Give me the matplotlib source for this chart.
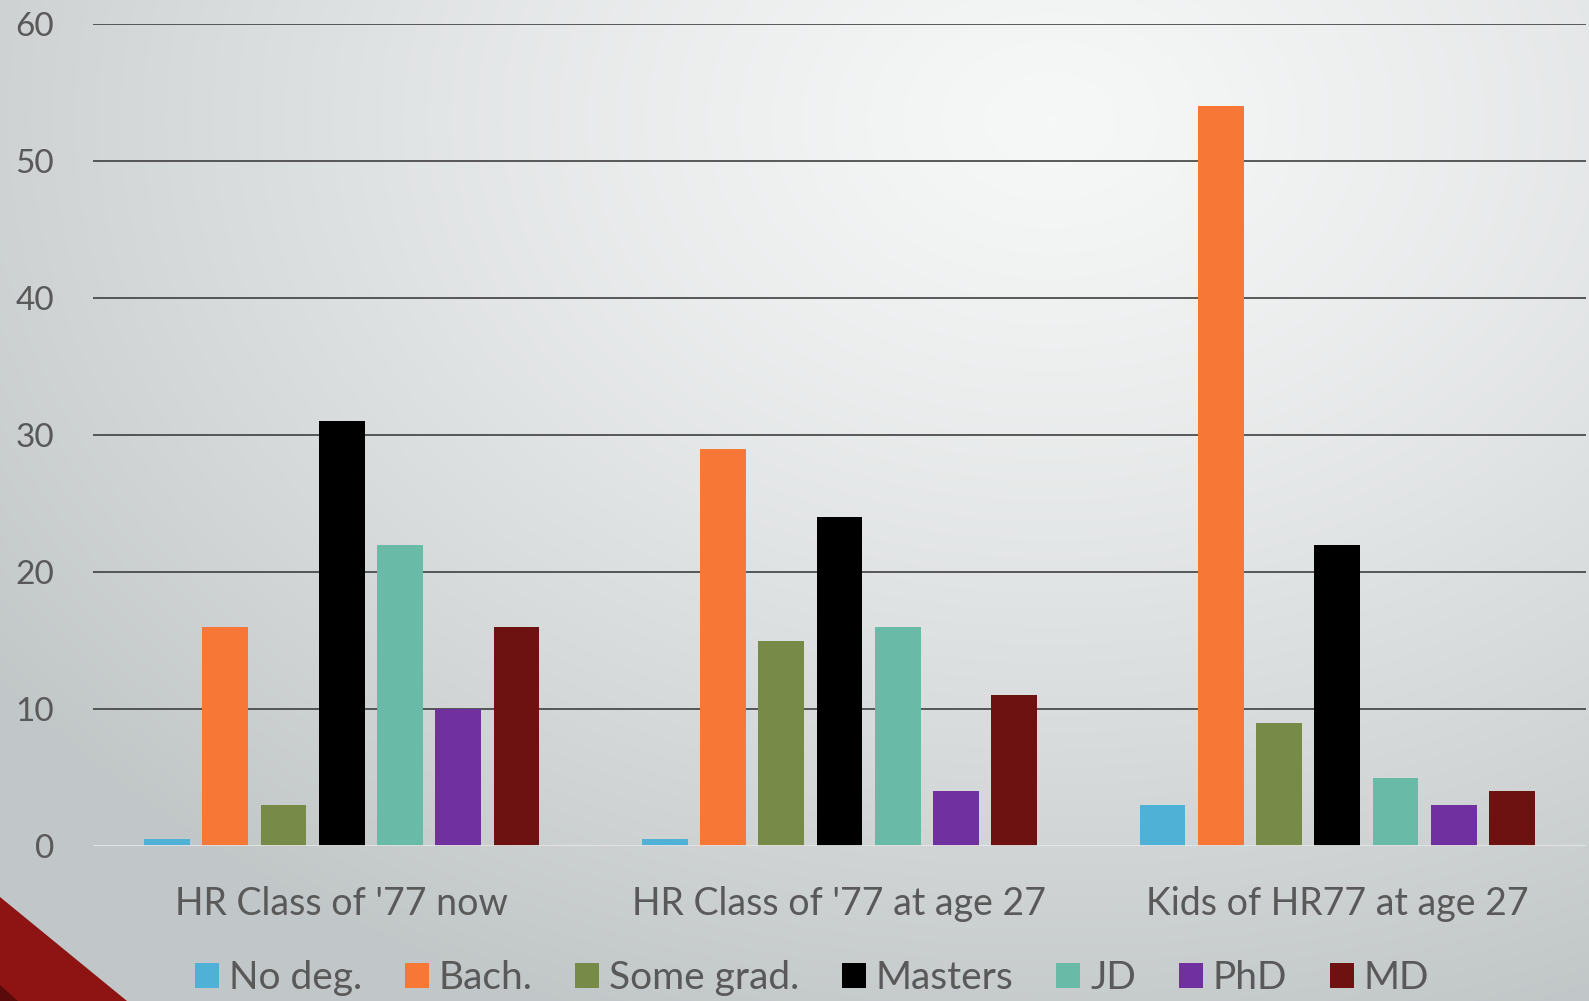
import numpy as np
import matplotlib
matplotlib.use("Agg")
import matplotlib.pyplot as plt
from matplotlib.patches import Polygon, Patch

categories = ["HR Class of '77 now", "HR Class of '77 at age 27", "Kids of HR77 at age 27"]
series_names = ["No deg.", "Bach.", "Some grad.", "Masters", "JD", "PhD", "MD"]
no_deg = [0.5, 0.5, 3]
bach = [16, 29, 54]
some_grad = [3, 15, 9]
masters = [31, 24, 22]
jd = [22, 16, 5]
phd = [10, 4, 3]
md = [16, 11, 4]
yticks = [0, 10, 20, 30, 40, 50, 60]

series_values = [no_deg, bach, some_grad, masters, jd, phd, md]
colors = ["#4FB1D6", "#F77836", "#788A48", "#000000", "#6ABAA8", "#7030A0", "#6E1111"]

W, H = 1589, 1001
fig = plt.figure(figsize=(W / 100, H / 100), dpi=100)
plt.rcParams['font.family'] = ['Lato', 'DejaVu Sans']
text_color = "#595959"

# background radial gradient
bg = fig.add_axes([0, 0, 1, 1], zorder=-10)
yy, xx = np.mgrid[0:H, 0:W]
r = np.sqrt(((xx - 1050) / 1300.0) ** 2 + ((yy - 120) / 950.0) ** 2)
t = np.clip(r, 0, 1) ** 1.3
light = np.array([0.965, 0.970, 0.970])
dark = np.array([0.76, 0.78, 0.785])
img = light[None, None, :] * (1 - t[..., None]) + dark[None, None, :] * t[..., None]
bg.imshow(img, extent=[0, W, H, 0], aspect='auto', interpolation='bilinear')
bg.set_xlim(0, W)
bg.set_ylim(H, 0)
bg.axis('off')
bg.add_patch(Polygon([[0, 897], [127, 1001], [0, 1001]], closed=True,
                     facecolor="#8E1414", edgecolor="none"))
bg.add_patch(Polygon([[0, 985], [18, 1001], [0, 1001]], closed=True,
                     facecolor="#5a0a0a", edgecolor="none"))

ax = fig.add_axes([93 / W, 1 - 846 / H, (1586 - 93) / W, (846 - 24.3) / H])
ax.patch.set_alpha(0)
x = np.arange(len(categories))
step = 0.117
width = 0.092
for i, (vals, c, name) in enumerate(zip(series_values, colors, series_names)):
    ax.bar(x + (i - 3) * step, vals, width=width, color=c, zorder=3, label=name)

ax.set_xlim(-0.5, 2.5)
ax.set_ylim(0, 60)
ax.set_yticks(yticks)
ax.set_yticklabels([str(v) for v in yticks], fontsize=24, color=text_color)
ax.set_xticks(x)
ax.set_xticklabels(categories, fontsize=27, color=text_color)
ax.tick_params(axis='y', length=0, pad=28)
ax.tick_params(axis='x', length=0, pad=29)
for v in yticks[1:]:
    ax.axhline(v, color="#3f3f3f", linewidth=1.2, zorder=1)
ax.axhline(0, color="#e6e6e6", linewidth=2.0, zorder=4)
for s in ax.spines.values():
    s.set_visible(False)

handles = [Patch(facecolor=c, edgecolor='none') for c in colors]
leg = fig.legend(handles, series_names, loc='center', bbox_to_anchor=(0.511, 1 - 978 / H),
                 ncol=7, frameon=False, fontsize=28, handlelength=0.62, handleheight=0.62,
                 handletextpad=0.25, columnspacing=1.1, labelcolor=text_color)

fig.savefig("out.png", dpi=100)
